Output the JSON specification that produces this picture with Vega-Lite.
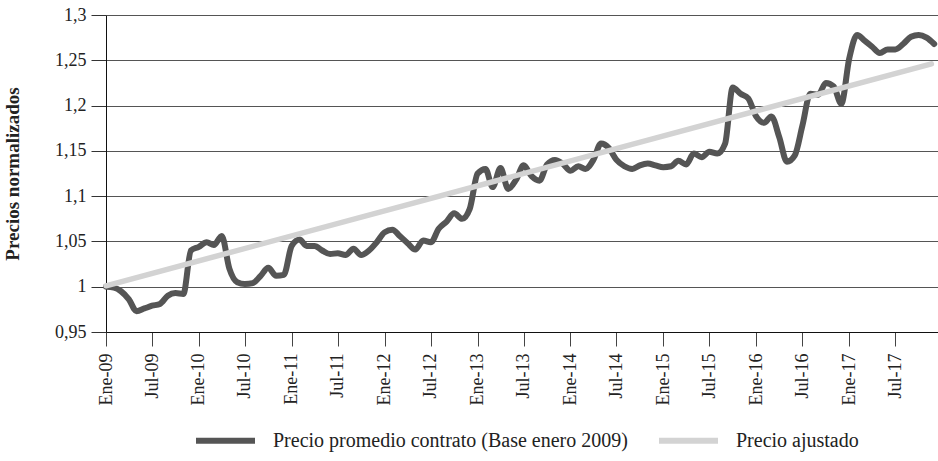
{
  "$schema": "https://vega.github.io/schema/vega-lite/v6.json",
  "autosize": {"type": "none"},
  "padding": {"left": 106, "top": 15, "right": 0, "bottom": 129},
  "width": 832,
  "height": 317,
  "background": "white",
  "config": {
    "font": "Liberation Serif",
    "view": {"stroke": null},
    "axis": {"labelFont": "Liberation Serif", "titleFont": "Liberation Serif", "labelColor": "#222", "titleColor": "#222"},
    "legend": {"labelFont": "Liberation Serif"}
  },
  "datasets": {
    "precios": [
      {"fecha": "2009-01-01", "valor": 1.000}, {"fecha": "2009-02-01", "valor": 0.999}, {"fecha": "2009-03-01", "valor": 0.995},
      {"fecha": "2009-04-01", "valor": 0.986}, {"fecha": "2009-05-01", "valor": 0.973}, {"fecha": "2009-06-01", "valor": 0.976},
      {"fecha": "2009-07-01", "valor": 0.979}, {"fecha": "2009-08-01", "valor": 0.981}, {"fecha": "2009-09-01", "valor": 0.990},
      {"fecha": "2009-10-01", "valor": 0.993}, {"fecha": "2009-11-01", "valor": 0.992}, {"fecha": "2009-12-01", "valor": 1.040},
      {"fecha": "2010-01-01", "valor": 1.044}, {"fecha": "2010-02-01", "valor": 1.049}, {"fecha": "2010-03-01", "valor": 1.046},
      {"fecha": "2010-04-01", "valor": 1.056}, {"fecha": "2010-05-01", "valor": 1.020}, {"fecha": "2010-06-01", "valor": 1.005},
      {"fecha": "2010-07-01", "valor": 1.003}, {"fecha": "2010-08-01", "valor": 1.004}, {"fecha": "2010-09-01", "valor": 1.012},
      {"fecha": "2010-10-01", "valor": 1.021}, {"fecha": "2010-11-01", "valor": 1.012}, {"fecha": "2010-12-01", "valor": 1.013},
      {"fecha": "2011-01-01", "valor": 1.045}, {"fecha": "2011-02-01", "valor": 1.052}, {"fecha": "2011-03-01", "valor": 1.045},
      {"fecha": "2011-04-01", "valor": 1.045}, {"fecha": "2011-05-01", "valor": 1.040}, {"fecha": "2011-06-01", "valor": 1.036},
      {"fecha": "2011-07-01", "valor": 1.037}, {"fecha": "2011-08-01", "valor": 1.035}, {"fecha": "2011-09-01", "valor": 1.042},
      {"fecha": "2011-10-01", "valor": 1.035}, {"fecha": "2011-11-01", "valor": 1.040}, {"fecha": "2011-12-01", "valor": 1.049},
      {"fecha": "2012-01-01", "valor": 1.060}, {"fecha": "2012-02-01", "valor": 1.063}, {"fecha": "2012-03-01", "valor": 1.056},
      {"fecha": "2012-04-01", "valor": 1.048}, {"fecha": "2012-05-01", "valor": 1.041}, {"fecha": "2012-06-01", "valor": 1.051},
      {"fecha": "2012-07-01", "valor": 1.049}, {"fecha": "2012-08-01", "valor": 1.064}, {"fecha": "2012-09-01", "valor": 1.072},
      {"fecha": "2012-10-01", "valor": 1.081}, {"fecha": "2012-11-01", "valor": 1.075}, {"fecha": "2012-12-01", "valor": 1.086},
      {"fecha": "2013-01-01", "valor": 1.125}, {"fecha": "2013-02-01", "valor": 1.130}, {"fecha": "2013-03-01", "valor": 1.110},
      {"fecha": "2013-04-01", "valor": 1.131}, {"fecha": "2013-05-01", "valor": 1.108}, {"fecha": "2013-06-01", "valor": 1.118},
      {"fecha": "2013-07-01", "valor": 1.134}, {"fecha": "2013-08-01", "valor": 1.122}, {"fecha": "2013-09-01", "valor": 1.117},
      {"fecha": "2013-10-01", "valor": 1.135}, {"fecha": "2013-11-01", "valor": 1.140}, {"fecha": "2013-12-01", "valor": 1.136},
      {"fecha": "2014-01-01", "valor": 1.128}, {"fecha": "2014-02-01", "valor": 1.133}, {"fecha": "2014-03-01", "valor": 1.130},
      {"fecha": "2014-04-01", "valor": 1.140}, {"fecha": "2014-05-01", "valor": 1.158}, {"fecha": "2014-06-01", "valor": 1.153},
      {"fecha": "2014-07-01", "valor": 1.140}, {"fecha": "2014-08-01", "valor": 1.133}, {"fecha": "2014-09-01", "valor": 1.130},
      {"fecha": "2014-10-01", "valor": 1.134}, {"fecha": "2014-11-01", "valor": 1.136}, {"fecha": "2014-12-01", "valor": 1.134},
      {"fecha": "2015-01-01", "valor": 1.132}, {"fecha": "2015-02-01", "valor": 1.133}, {"fecha": "2015-03-01", "valor": 1.139},
      {"fecha": "2015-04-01", "valor": 1.135}, {"fecha": "2015-05-01", "valor": 1.147}, {"fecha": "2015-06-01", "valor": 1.143},
      {"fecha": "2015-07-01", "valor": 1.149}, {"fecha": "2015-08-01", "valor": 1.147}, {"fecha": "2015-09-01", "valor": 1.158},
      {"fecha": "2015-10-01", "valor": 1.220}, {"fecha": "2015-11-01", "valor": 1.213}, {"fecha": "2015-12-01", "valor": 1.208},
      {"fecha": "2016-01-01", "valor": 1.188}, {"fecha": "2016-02-01", "valor": 1.181}, {"fecha": "2016-03-01", "valor": 1.188},
      {"fecha": "2016-04-01", "valor": 1.165}, {"fecha": "2016-05-01", "valor": 1.138}, {"fecha": "2016-06-01", "valor": 1.145},
      {"fecha": "2016-07-01", "valor": 1.178}, {"fecha": "2016-08-01", "valor": 1.213}, {"fecha": "2016-09-01", "valor": 1.212},
      {"fecha": "2016-10-01", "valor": 1.225}, {"fecha": "2016-11-01", "valor": 1.221}, {"fecha": "2016-12-01", "valor": 1.202},
      {"fecha": "2017-01-01", "valor": 1.252}, {"fecha": "2017-02-01", "valor": 1.278}, {"fecha": "2017-03-01", "valor": 1.272},
      {"fecha": "2017-04-01", "valor": 1.265}, {"fecha": "2017-05-01", "valor": 1.258}, {"fecha": "2017-06-01", "valor": 1.262},
      {"fecha": "2017-07-01", "valor": 1.262}, {"fecha": "2017-08-01", "valor": 1.268}, {"fecha": "2017-09-01", "valor": 1.276},
      {"fecha": "2017-10-01", "valor": 1.278}, {"fecha": "2017-11-01", "valor": 1.275}, {"fecha": "2017-12-01", "valor": 1.268}
    ],
    "ajustado": [
      {"fecha": "2009-01-01", "valor": 1.001},
      {"fecha": "2017-11-20", "valor": 1.246}
    ]
  },
  "encoding": {
    "x": {
      "field": "fecha", "type": "temporal",
      "scale": {"type": "utc", "domain": [{"year": 2009, "month": 1, "date": 1, "utc": true}, {"year": 2017, "month": 12, "date": 16, "utc": true}]},
      "axis": {
        "title": null, "grid": false,
        "tickCount": {"interval": "month", "step": 6},
        "labelExpr": "(utcmonth(datum.value) == 0 ? 'Ene' : 'Jul') + '-' + utcFormat(datum.value, '%y')",
        "labelAngle": -90, "labelAlign": "right", "labelBaseline": "middle",
        "labelFontSize": 18, "labelPadding": 7, "tickSize": 14, "tickColor": "#444",
        "domainColor": "#111", "labelFlush": false, "labelOverlap": false
      }
    },
    "y": {
      "field": "valor", "type": "quantitative",
      "scale": {"domain": [0.95, 1.3], "nice": false, "zero": false},
      "axis": {
        "title": "Precios normalizados", "titleFontSize": 19, "titleFontWeight": "bold", "titlePadding": 32,
        "values": [0.95, 1, 1.05, 1.1, 1.15, 1.2, 1.25, 1.3],
        "labelExpr": "replace(toString(datum.value), '.', ',')",
        "labelFontSize": 18, "labelPadding": 5, "tickSize": 15, "tickColor": "#333",
        "domainColor": "#111", "grid": true, "gridColor": "#555", "gridWidth": 1
      }
    },
    "color": {
      "field": "serie", "type": "nominal",
      "scale": {"domain": ["Precio promedio contrato (Base enero 2009)", "Precio ajustado"], "range": ["#555555", "#d3d3d3"]},
      "legend": {
        "title": null, "orient": "none", "direction": "horizontal", "legendX": 87, "legendY": 393,
        "symbolType": "stroke", "symbolSize": 3481, "symbolStrokeWidth": 6, "labelLimit": 600,
        "labelFontSize": 20, "labelColor": "#222", "labelOffset": 15, "columnPadding": 19, "padding": 0
      }
    }
  },
  "layer": [
    {
      "data": {"name": "precios"},
      "transform": [{"calculate": "'Precio promedio contrato (Base enero 2009)'", "as": "serie"}],
      "mark": {"type": "line", "strokeWidth": 6, "interpolate": "monotone", "strokeCap": "round", "strokeJoin": "round"}
    },
    {
      "data": {"name": "ajustado"},
      "transform": [{"calculate": "'Precio ajustado'", "as": "serie"}],
      "mark": {"type": "line", "strokeWidth": 5.5, "strokeCap": "round"}
    }
  ]
}
